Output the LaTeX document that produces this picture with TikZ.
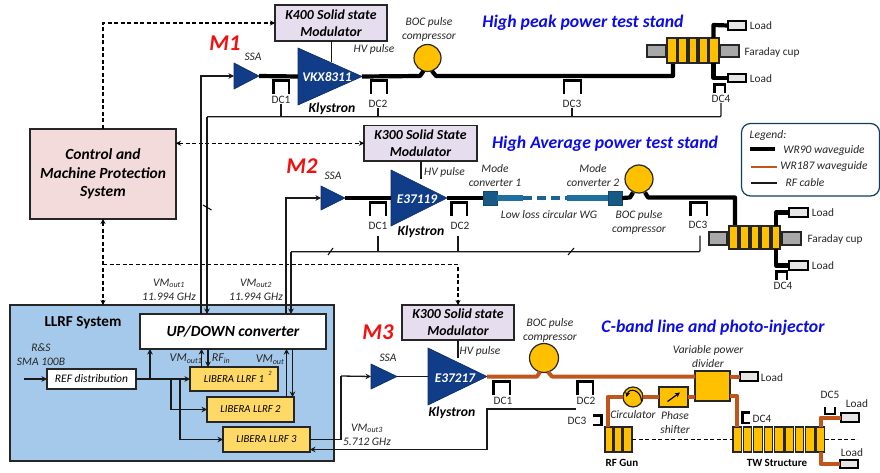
\documentclass[tikz,border=0pt]{standalone}
\usepackage{fontspec}
\setmainfont{Carlito}
\usetikzlibrary{arrows.meta,calc}
\definecolor{gold}{HTML}{FFC000}
\definecolor{navy}{HTML}{103C88}
\definecolor{wgo}{HTML}{C0561C}
\definecolor{teal1}{HTML}{1F6FA0}
\definecolor{teal2}{HTML}{175A85}
\definecolor{pur}{HTML}{E6DEEE}
\definecolor{pnk}{HTML}{F4DBDB}
\definecolor{llrf}{HTML}{A5C9EA}
\definecolor{lib}{HTML}{FFD966}
\definecolor{txt}{HTML}{262626}
\definecolor{ttl}{HTML}{0C0CE8}
\definecolor{mred}{HTML}{F01010}
\definecolor{edge}{HTML}{262626}
\tikzset{
  lab/.style={font=\itshape\fontsize{11.5}{14}\selectfont,text=txt,align=center,inner sep=0pt},
  dclab/.style={font=\fontsize{11.3}{13}\selectfont,text=txt,align=center,inner sep=0pt},
  boxlab/.style={font=\bfseries\itshape\fontsize{13.8}{17}\selectfont,text=black,align=center},
  titlelab/.style={font=\bfseries\itshape\fontsize{17.7}{20}\selectfont,text=ttl,inner sep=0pt},
  mlab/.style={font=\bfseries\itshape\fontsize{22.5}{24}\selectfont,text=mred,inner sep=0pt},
  klab/.style={font=\bfseries\itshape\fontsize{13.7}{14}\selectfont,text=black,inner sep=0pt},
  tname/.style={font=\bfseries\itshape\fontsize{13.3}{14}\selectfont,text=white,inner sep=0pt},
  modbox/.style={draw=edge,line width=1.3pt,fill=pur,boxlab},
  libbox/.style={draw=edge,line width=1.3pt,fill=lib,font=\itshape\fontsize{10.7}{13}\selectfont,text=black},
  cell/.style={draw=edge,line width=1.1pt,fill=gold},
  greybox/.style={draw=edge,line width=1.3pt,fill=black!34},
  loadbox/.style={draw=black,line width=1.3pt,fill=black!10},
  conv/.style={draw=teal2!80!black,line width=.8pt,fill=teal2},
  bocc/.style={circle,draw=edge,line width=1.2pt,fill=gold,inner sep=0pt,outer sep=0pt},
  wg/.style={line width=4.2pt,black,line join=round},
  wgr/.style={line width=4pt,wgo,line join=round},
  cwg/.style={line width=5.5pt,teal1},
  sig/.style={line width=1.3pt,draw=black!90},
  sigar/.style={sig,-{Stealth[length=5.5pt,width=5.5pt]}},
  ctl/.style={line width=1.2pt,black,dash pattern=on 4pt off 2.5pt,{Stealth[length=5pt,width=5pt]}-{Stealth[length=5pt,width=5pt]}},
  ctlone/.style={line width=1.2pt,black,dash pattern=on 4pt off 2.5pt,-{Stealth[length=5pt,width=5pt]}},
  dcb/.style={line width=2.4pt,black,line cap=butt},
  tick/.style={line width=1pt,black}
}
\newcommand{\bx}[7]{%
  \pgfmathsetmacro\bxW{#4-#2}\pgfmathsetmacro\bxH{#5-#3}%
  \pgfmathsetmacro\bxX{(#4+#2)/2}\pgfmathsetmacro\bxY{(#5+#3)/2}%
  \node[#6,minimum width=\bxW pt,minimum height=\bxH pt,inner sep=0pt,outer sep=0pt] (#1) at (\bxX,\bxY) {#7};}
\newcommand{\tri}[5]{%
  \bx{#1}{#2}{#3}{#4}{#5}{}{}%
  \fill[navy,draw=navy!70!black,line width=.6pt] (#1.north west) -- (#1.south west) -- (#1.east) -- cycle;}
\newcommand{\dcu}[4]{\draw[dcb] (#1,#4) -- (#1,#3) -- (#2,#3) -- (#2,#4);}
\begin{document}
\begin{tikzpicture}[x=1pt,y=-1pt]
\useasboundingbox (0,0) rectangle (880,473);
\fill[white] (0,0) rectangle (880,473);

% ---------- boxes that others connect to
\bx{llrfsys}{10}{305}{334}{461}{draw=edge,line width=1.5pt,fill=llrf}{}
\bx{ctrl}{30}{129}{176}{219}{draw=edge,line width=1.3pt,fill=pnk,font=\bfseries\itshape\fontsize{15.5}{18.6}\selectfont,align=center}{Control and\\Machine Protection\\System}
\bx{modA}{275}{5}{387}{41}{modbox}{K400 Solid state\\Modulator}
\bx{modB}{364}{125.5}{477}{161}{modbox}{K300 Solid State\\Modulator}
\bx{modC}{402}{305}{514}{340}{modbox}{K300 Solid state\\Modulator}
\bx{updown}{140}{314}{326}{349}{draw=edge,line width=1.5pt,fill=white,font=\bfseries\itshape\fontsize{15.5}{18}\selectfont}{UP/DOWN converter}
\bx{refd}{47}{369}{136}{389}{draw=edge,line width=1.4pt,fill=white,font=\itshape\fontsize{11.5}{14}\selectfont}{REF distribution}
\bx{libA}{190}{367}{278}{391}{libbox}{LIBERA LLRF 1}
\bx{libB}{207}{397}{294}{422}{libbox}{LIBERA LLRF 2}
\bx{libC}{223}{427}{310}{452}{libbox}{LIBERA LLRF 3}
\node[lab,font=\itshape\fontsize{6.5}{8}\selectfont] (suptwo) at (270,373) {2};
\node[font=\bfseries\fontsize{15.2}{16}\selectfont,inner sep=0pt] (llrfname) at (83,323) {LLRF System};

% ---------- junction coordinates
\coordinate (srcin) at (24,379);
\coordinate (upA) at (201,76);
\coordinate (fbA) at (207,116.7);
\coordinate (upB) at (286,198);
\coordinate (fbB) at (291,251.7);
\coordinate (dashcor) at (458,264.5);
\coordinate (dashst) at (103,264.5);
\coordinate (jA) at (150,379);
\coordinate (jB) at (171,379);
\coordinate (jC) at (180,379);

% ---------- dashed control lines
\draw[ctlone] (ctrl.north) -- (103,23) -- (modA.west);
\draw[ctl] (ctrl.east |- modB.west) ++(0,0) -- (modB.west);
\draw[ctl] (ctrl.south) -- (llrfsys.north -| ctrl.south);
\draw[ctlone] (dashst) -- (dashcor) -- (modC.north -| dashcor);

% ---------- M1
\node[mlab] (mA) at (225,43) {M1};
\tri{ssaA}{234}{63}{259}{89}
\tri{klyA}{298}{48}{362}{105}
\node[tname] (klyAn) at (327,77) {VKX8311};
\node[klab] (klyAl) at (332,109) {Klystron};
\node[lab] (ssaAl) at (253,57) {SSA};
\node[lab] (hvA) at (374,49) {HV pulse};
\node[lab] (bocAl) at (429,29) {BOC pulse\\compressor};
\node[bocc,minimum size=27pt] (bocA) at (427.5,58) {};
\node[titlelab] (ttlA) at (583,23) {High peak power test stand};
\draw[sig] (modA.south -| 331.5,0) -- (331.5,62);
\draw[wg] (ssaA.east) -- (klyA.west);
\coordinate (aEnd) at (673,63);
\draw[wg] (klyA.east) -- (420,76) -- (423.5,71) (432,71) -- (436,76) -- (673,76) -- (aEnd);
\bx{cA1}{667}{38}{677}{63}{cell}{}
\bx{cA2}{678}{38}{687}{63}{cell}{}
\bx{cA3}{689}{38}{697}{63}{cell}{}
\bx{cA4}{699}{38}{708}{63}{cell}{}
\bx{cA5}{709}{38}{719}{63}{cell}{}
\bx{fcAl}{647}{45}{666}{57}{greybox}{}
\bx{fcAr}{720}{45}{739}{57}{greybox}{}
\bx{loadA1}{728}{21}{746}{30}{loadbox}{}
\bx{loadA2}{728}{74}{746}{82}{loadbox}{}
\draw[wg] (713.5,38) -- (713.5,25) -- (loadA1.west);
\draw[wg] (713.5,63) -- (713.5,78) -- (loadA2.west);
\node[dclab] (ldA1) at (761,25.5) {Load};
\node[dclab] (ldA2) at (761,79) {Load};
\node[dclab] (fcAt) at (772,52) {Faraday cup};
\dcu{273.5}{289}{80.5}{94}
\dcu{371}{387}{80.5}{94}
\dcu{564}{581}{80.5}{94}
\dcu{714.5}{725}{84.5}{93}
\node[dclab] (dcA1) at (281,100) {DC1};
\node[dclab] (dcA2) at (378,104) {DC2};
\node[dclab] (dcA3) at (572,104) {DC3};
\node[dclab] (dcA4) at (721,99) {DC4};
\draw[sig] (dcA1.south) -- (dcA1.south |- fbA);
\draw[sig] (dcA2.south) -- (dcA2.south |- fbA);
\draw[sig] (dcA3.south) -- (dcA3.south |- fbA);
\draw[sig,rounded corners=1pt] (dcA4.south) -- (dcA4.south |- fbA) -- (fbA);
\draw[sigar] (fbA) -- (fbA |- updown.north);
\draw[sigar] (upA |- updown.north) -- (upA) -- (ssaA.west);

% ---------- M2
\node[mlab] (mB) at (302,166) {M2};
\tri{ssaB}{321}{186}{345}{210}
\tri{klyB}{391}{170}{447}{226}
\node[tname] (klyBn) at (417,199) {E37119};
\node[klab] (klyBl) at (421,232) {Klystron};
\node[lab] (ssaBl) at (333,176) {SSA};
\node[lab] (hvB) at (444.5,172) {HV pulse};
\node[titlelab] (ttlB) at (605,144) {High Average power test stand};
\draw[sig] (421,161) -- (421,179);
\draw[wg] (ssaB.east) -- (klyB.west);
\bx{convA}{483}{191}{497}{205}{conv}{}
\bx{convB}{608}{191}{622}{205}{conv}{}
\draw[wg] (klyB.east) -- (convA.west);
\coordinate (cwA) at (523,198);
\coordinate (cwB) at (566.5,198);
\draw[cwg] (convA.east) -- (cwA);
\draw[cwg] (cwB) -- (convB.west);
\draw[line width=3.6pt,teal1!90!black,dash pattern=on 9pt off 5pt] (cwA) -- (cwB);
\node[bocc,minimum size=28pt] (bocB) at (639,179) {};
\coordinate (bTop) at (735,226);
\draw[wg] (convB.east) -- (630,197.5) -- (633,192.5) (645,192.5) -- (648,197.5) -- (735,197.5) -- (bTop);
\bx{cB1}{729}{226}{738}{249}{cell}{}
\bx{cB2}{740}{226}{749}{249}{cell}{}
\bx{cB3}{751}{226}{759}{249}{cell}{}
\bx{cB4}{761}{226}{770}{249}{cell}{}
\bx{cB5}{772}{226}{780}{249}{cell}{}
\bx{fcBl}{709}{232}{727}{245}{greybox}{}
\bx{fcBr}{782}{232}{801}{245}{greybox}{}
\bx{loadB1}{789}{208}{808}{217}{loadbox}{}
\bx{loadB2}{789}{261}{808}{270}{loadbox}{}
\draw[wg] (776,226) -- (776,212.5) -- (loadB1.west);
\draw[wg] (776,249) -- (776,265.5) -- (loadB2.west);
\node[dclab] (ldB1) at (823,213) {Load};
\node[dclab] (ldB2) at (823,265.5) {Load};
\node[dclab] (fcBt) at (835,239) {Faraday cup};
\node[lab] (mcA) at (495,176) {Mode\\converter 1};
\node[lab] (mcB) at (593,176) {Mode\\converter 2};
\node[lab] (lowl) at (549,215) {Low loss circular WG};
\node[lab] (bocBl) at (639,222) {BOC pulse\\compressor};
\dcu{370}{386}{202.5}{216}
\dcu{451.5}{467}{202.5}{216}
\dcu{690.5}{707}{202.5}{216}
\dcu{776.5}{787}{271.5}{280}
\node[dclab] (dcB1) at (378,226) {DC1};
\node[dclab] (dcB2) at (460,226) {DC2};
\node[dclab] (dcB3) at (698,225) {DC3};
\node[dclab] (dcB4) at (783,286) {DC4};
\draw[sig] (378,235.5) -- (378 ,251.7);
\draw[sig] (458,235.5) -- (458,251.7);
\draw[sig,rounded corners=1pt] (700,235.5) -- (700,251.7) -- (fbB);
\draw[sigar] (fbB) -- (fbB |- updown.north);
\draw[sigar] (upB |- updown.north) -- (upB) -- (ssaB.west);
\draw[tick] (203,205) -- (211.5,210);
\draw[tick] (328,255) -- (333,248);
\draw[tick] (568,255) -- (574,248);

% ---------- M3
\node[mlab] (mC) at (378,332) {M3};
\tri{ssaC}{371}{364}{397}{389}
\tri{klyC}{428}{348}{487}{405}
\node[tname] (klyCn) at (455,378) {E37217};
\node[klab] (klyCl) at (452,413) {Klystron};
\node[lab] (ssaCl) at (388,358) {SSA};
\node[lab] (hvC) at (480,351) {HV pulse};
\node[lab] (bocCl) at (550,330) {BOC pulse\\compressor};
\node[titlelab] (ttlC) at (713,328) {C-band line and photo-injector};
\draw[sig] (modC.south -| 458,0) -- (458,358);
\draw[sig] (ssaC.east) -- (klyC.west);
\node[bocc,minimum size=29pt] (bocC) at (544,358) {};
\bx{pdiv}{695}{371}{730}{401}{draw=edge,line width=1.3pt,fill=gold}{}
\bx{loadC0}{740}{372}{758}{381}{loadbox}{}
\bx{phs}{659}{387}{688}{407}{draw=edge,line width=1.3pt,fill=gold}{}
\node[bocc,minimum size=20pt] (circ) at (633,397) {};
\bx{gA}{605}{427}{612.5}{452}{cell}{}
\bx{gB}{614}{427}{621.5}{452}{cell}{}
\bx{gC}{623}{427}{632}{452}{cell}{}
\foreach \nn/\xx in {1/733,2/743.4,3/753.8,4/764.2,5/774.6,6/785,7/795.4,8/805.8,9/816}{
  \pgfmathsetmacro\xe{\xx+8.5}
  \bx{tw\nn}{\xx}{427}{\xe}{452}{cell}{}
}
\draw[wgr] (klyC.east) -- (537,376.5) -- (540,372) (548,372) -- (552,376.5) -- (pdiv.west |- 0,376.5);
\draw[wgr] (pdiv.east |- 0,376.5) -- (loadC0.west);
\draw[wgr] (730,396) -- (737,396) -- (737,427);
\draw[wgr] (pdiv.west |- phs.east) -- (phs.east);
\draw[wgr] (phs.west) -- (circ.east);
\draw[wgr] (circ.west) -- (607.5,397) -- (607.5,427);
\draw[line width=1.1pt,black,-{Stealth[length=5pt,width=5pt]}] (641.5,401) .. controls (641,390) and (629,387) .. (626.5,397);
\draw[line width=1.2pt,black,-{Stealth[length=5pt,width=5pt]}] (667.5,401.5) -- (680,392.5);
\bx{loadC1}{841}{413}{859}{422}{loadbox}{}
\bx{loadC2}{840}{460}{858}{468}{loadbox}{}
\draw[wgr] (820.5,427) -- (820.5,417.5) -- (loadC1.west);
\draw[wgr] (820.5,452) -- (820.5,464) -- (loadC2.west);
\draw[line width=1.2pt,black,dash pattern=on 4pt off 2.5pt] (gC.east |- 0,439.5) -- (tw1.west |- 0,439.5);
\coordinate (twend) at (857,439.5);
\draw[line width=1.2pt,black,dash pattern=on 4pt off 2.5pt] (tw9.east) -- (twend);
\node[dclab] (ldC0) at (772,378) {Load};
\node[dclab] (ldC1) at (857,404) {Load};
\node[dclab] (ldC2) at (852,453) {Load};
\node[lab] (vpd) at (708,357) {Variable power\\divider};
\node[lab] (circl) at (633,415) {Circulator};
\node[lab] (phsl) at (675,422.5) {Phase\\shifter};
\node[font=\bfseries\fontsize{11}{13}\selectfont,inner sep=0pt] (gunl) at (622,463) {RF Gun};
\node[font=\bfseries\fontsize{11}{13}\selectfont,inner sep=0pt] (twl) at (777,463) {TW Structure};
\dcu{493.5}{510}{381.5}{395}
\dcu{577.5}{593}{381.5}{395}
\draw[dcb] (593,415.5) -- (601.5,415.5) -- (601.5,425) -- (593,425);
\draw[dcb] (750,412.5) -- (742.5,412.5) -- (742.5,423) -- (750,423);
\draw[dcb] (825,407) -- (825,414) -- (835,414) -- (835,407);
\node[dclab] (dcC1) at (503,401) {DC1};
\node[dclab] (dcC2) at (586,401) {DC2};
\node[dclab] (dcC3) at (577,421) {DC3};
\node[dclab] (dcC4) at (762,419) {DC4};
\node[dclab] (dcC5) at (830,395) {DC5};
\coordinate (fbC) at (487,409);
\draw[sigar] (dcC2.west |- fbC) -- (fbC) -- (487,449.5) -- (libC.east |- 0,449.5);
\draw[sig] (libC.east) -- (341,439.5) -- (341,376);
\draw[sigar] (341,376) -- (ssaC.west);
\node[lab] (vm3) at (367,434.5) {VM\textsubscript{out3}\\5.712 GHz};
\node[lab] (vm1) at (169,289.5) {VM\textsubscript{out1}\\11.994 GHz};
\node[lab] (vm2) at (256,289.5) {VM\textsubscript{out2}\\11.994 GHz};

% ---------- LLRF internals
\node[lab] (rs) at (41,355) {R\&S\\SMA 100B};
\draw[sigar] (srcin) -- (refd.west);
\draw[sigar] (refd.east) -- (libA.west);
\draw[sigar] (jA) -- (jA |- updown.south);
\draw[sigar] (jB) -- (171,409.5) -- (libB.west);
\draw[sigar] (jC) -- (180,439.5) -- (libC.west);
\draw[sigar] (201.5,367) -- (201.5,349);
\draw[sigar] (208,349) -- (208,367);
\draw[sigar] (286.5,397) -- (286.5,349);
\draw[sigar] (292.5,349) -- (292.5,397);
\node[lab,font=\itshape\fontsize{12}{13}\selectfont] (vmo) at (186,359) {VM\textsubscript{out1}};
\node[lab,font=\itshape\fontsize{12}{13}\selectfont] (rfi) at (221,359) {RF\textsubscript{in}};
\node[lab,font=\itshape\fontsize{12}{13}\selectfont] (vmp) at (270,360) {VM\textsubscript{out}};

% ---------- legend
\bx{legend}{741.5}{123.5}{879.5}{196}{draw=teal2!70!black,line width=1.2pt,rounded corners=9pt}{}
\node[lab] (legt) at (768,135) {Legend:};
\coordinate (lgA1) at (750,149); \coordinate (lgA2) at (775,149);
\coordinate (lgB1) at (751,167); \coordinate (lgB2) at (777,167);
\coordinate (lgC1) at (751,183); \coordinate (lgC2) at (777,183);
\draw[wg] (lgA1) -- (lgA2);
\draw[line width=2.8pt,wgo] (lgB1) -- (lgB2);
\draw[sig] (lgC1) -- (lgC2);
\node[lab] (lgAt) at (824,150) {WR90 waveguide};
\node[lab] (lgBt) at (824,166.5) {WR187 waveguide};
\node[lab] (lgCt) at (805,183) {RF cable};
\end{tikzpicture}
\end{document}
